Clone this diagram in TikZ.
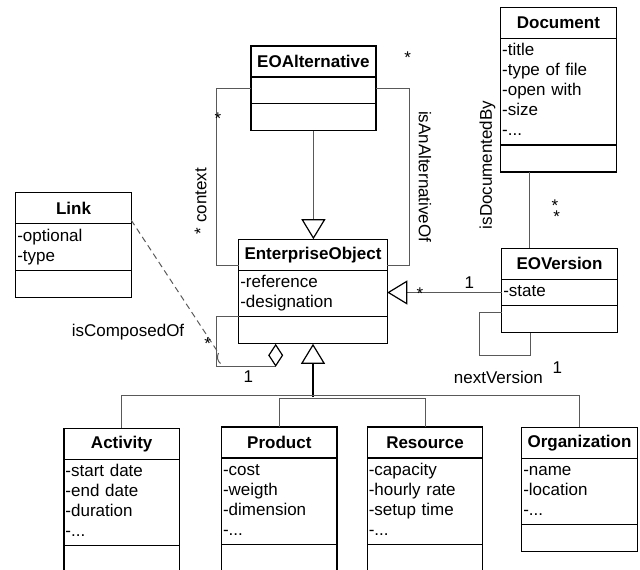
\documentclass[tikz,border=0pt]{standalone}
\usepackage{fontspec}
\setmainfont{Liberation Sans}
\usetikzlibrary{positioning,arrows.meta}

\begin{document}
\begin{tikzpicture}[x=1pt,y=-1pt,
  font=\fontsize{17}{20}\selectfont,
  title/.style={draw,line width=1.3pt,outer sep=0pt,inner sep=0pt,minimum width=#1,minimum height=31pt,font=\fontsize{17}{20}\selectfont\bfseries},
  attrs/.style={draw,line width=1.3pt,outer sep=0pt,inner xsep=1.5pt,inner ysep=3.3pt,text width=#1,align=left,execute at begin node=\strut,execute at end node=\strut},
  ops/.style={draw,line width=1.3pt,outer sep=0pt,inner sep=0pt,minimum width=#1,minimum height=27pt},
  lbl/.style={inner sep=0pt},
  assoc/.style={draw=black!65,line width=1pt},
  gen/.style={assoc,-{Triangle[open,length=20pt,width=24pt,line width=1.2pt,color=black]}},
  agg/.style={assoc,-{Diamond[open,length=23pt,width=15pt,line width=1.2pt,color=black]}}]
\useasboundingbox (0,0) rectangle (640,570);

\node[title=125pt] (eoalt) at (313.4,61.4) {EOAlternative};
\node[attrs=122pt,below=0pt of eoalt] (eoalt-a) {};
\node[ops=125pt,below=0pt of eoalt-a] (eoalt-o) {};

\node[title=115.5pt] (doc) at (558.4,22.8) {Document};
\node[attrs=112.5pt,below=0pt of doc] (doc-a) {-title\\-type of file\\-open with\\-size\\-...};
\node[ops=115.5pt,below=0pt of doc-a] (doc-o) {};

\node[title=115.5pt] (link) at (73.5,208.2) {Link};
\node[attrs=112.5pt,below=0pt of link] (link-a) {-optional\\-type};
\node[ops=115.5pt,below=0pt of link-a] (link-o) {};

\node[title=148.5pt] (eo) at (313,254.7) {EnterpriseObject};
\node[attrs=145.5pt,below=0pt of eo] (eo-a) {-reference\\-designation};
\node[ops=148.5pt,below=0pt of eo-a] (eo-o) {};

\node[title=115.5pt] (ver) at (559.5,263.7) {EOVersion};
\node[attrs=112.5pt,below=0pt of ver] (ver-a) {-state};
\node[ops=115.5pt,below=0pt of ver-a] (ver-o) {};

\node[title=115.5pt] (act) at (121.7,443.7) {Activity};
\node[attrs=112.5pt,below=0pt of act] (act-a) {-start date\\-end date\\-duration\\-...};
\node[ops=115.5pt,below=0pt of act-a] (act-o) {};

\node[title=115.5pt] (prod) at (279.3,442.5) {Product};
\node[attrs=112.5pt,below=0pt of prod] (prod-a) {-cost\\-weigth\\-dimension\\-...};
\node[ops=115.5pt,below=0pt of prod-a] (prod-o) {};

\node[title=115.5pt] (res) at (425,442.5) {Resource};
\node[attrs=112.5pt,below=0pt of res] (res-a) {-capacity\\-hourly rate\\-setup time\\-...};
\node[ops=115.5pt,below=0pt of res-a] (res-o) {};

\node[title=115.5pt] (org) at (579.5,442.7) {Organization};
\node[attrs=112.5pt,below=0pt of org] (org-a) {-name\\-location\\-...};
\node[ops=115.5pt,below=0pt of org-a] (org-o) {};

\draw[gen] (eoalt-o.south) -- (eoalt-o.south |- eo.north);
\draw[assoc] ([yshift=2pt]eoalt-a.west) -| ([xshift=-22.7pt,yshift=-10.3pt]eo.west) -- ([yshift=-10.3pt]eo.west);
\draw[assoc] ([yshift=2pt]eoalt-a.east) -| ([xshift=22.7pt,yshift=-10.3pt]eo.east) -- ([yshift=-10.3pt]eo.east);

\draw[assoc] ([xshift=-28.5pt]doc-o.south) -- ([xshift=-28.5pt]doc-o.south |- ver.north);
\draw[gen] (ver-a.west) -- (ver-a.west -| eo-a.east);
\draw[assoc] ([yshift=7pt]ver-o.west) -| ++(-22.7,43.3) -| ([xshift=-28.8pt]ver-o.south);

\draw[agg] (eo-o.north west) -| ++(-22.7,50) -| ([xshift=-37.3pt]eo-o.south);
\coordinate (lk) at (218.5,353);
\draw[assoc,dash pattern=on 6pt off 4pt] ([yshift=-12pt]link.east) -- (lk);
\draw[assoc] (lk) .. controls (216.5,357) and (217.5,361) .. (220.5,363.5);

\coordinate (bus) at (313,397);
\draw[gen,draw=black,line width=2pt] (bus) -- (eo-o.south);
\draw[assoc] (act.north) -- ++(0,-32.3) -| (org.north);
\draw[assoc] (prod.north) -- ++(0,-28.7) -| (res.north);

\node[lbl] (m1) at (407.7,57.5) {*};
\node[lbl] (m2) at (218,118.5) {*};
\node[lbl,rotate=90] (ctx) at (200.6,201) {* context};
\node[lbl,rotate=-90] (alt) at (425,176.7) {isAnAlternativeOf};
\node[lbl,rotate=90] (docby) at (487.5,165) {isDocumentedBy};
\node[lbl] (m3) at (555,205.2) {*};
\node[lbl] (m4) at (556.7,216.2) {*};
\node[lbl] (m5) at (420,293.5) {*};
\node[lbl] (m6) at (469.3,282.7) {1};
\node[lbl] (next) at (498.3,377.3) {nextVersion};
\node[lbl] (m7) at (557.3,367.3) {1};
\node[lbl] (comp) at (128,331.7) {isComposedOf};
\node[lbl] (m8) at (207.7,344) {*};
\node[lbl] (m9) at (248.3,376.7) {1};
\end{tikzpicture}
\end{document}
